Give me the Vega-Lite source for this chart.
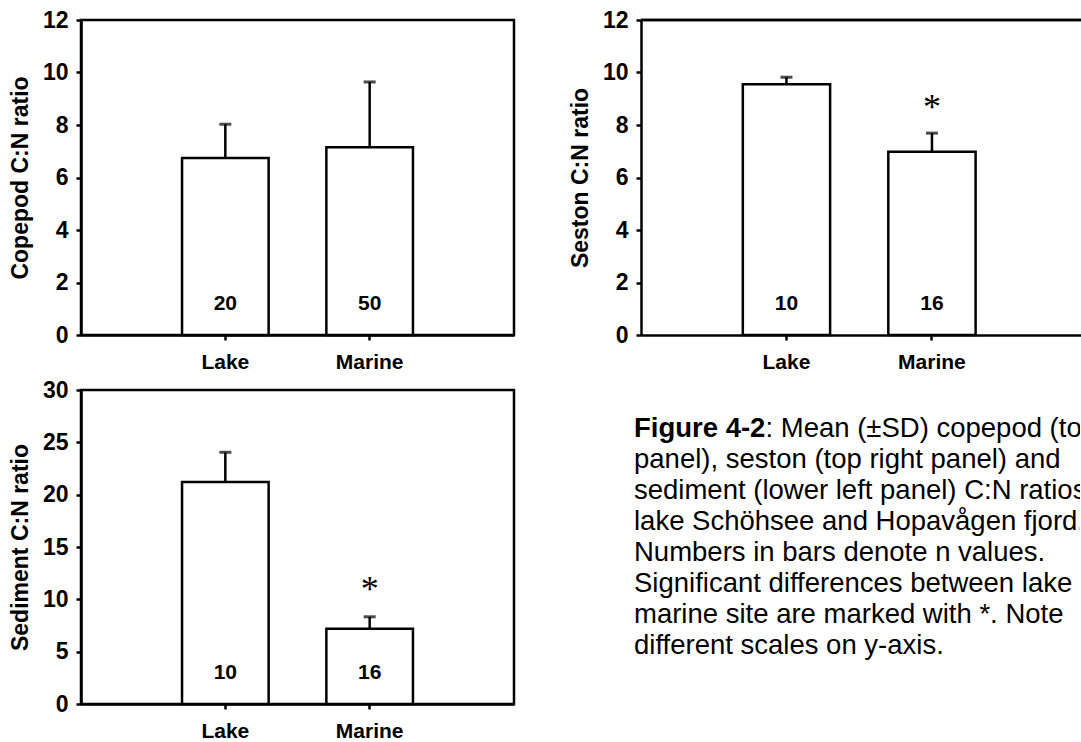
{
  "$schema": "https://vega.github.io/schema/vega-lite/v6.json",
  "padding": {"left": 8, "top": 7, "right": 0, "bottom": 0},
  "background": "white",
  "datasets": {
    "bars": [
      {"panel": "copepod", "site": "Lake", "mean": 6.74, "upper": 8.03, "n": "20", "sig": ""},
      {"panel": "copepod", "site": "Marine", "mean": 7.15, "upper": 9.64, "n": "50", "sig": ""},
      {"panel": "seston", "site": "Lake", "mean": 9.55, "upper": 9.82, "n": "10", "sig": ""},
      {"panel": "seston", "site": "Marine", "mean": 6.98, "upper": 7.69, "n": "16", "sig": "*"},
      {"panel": "sediment", "site": "Lake", "mean": 21.2, "upper": 24.05, "n": "10", "sig": ""},
      {"panel": "sediment", "site": "Marine", "mean": 7.2, "upper": 8.33, "n": "16", "sig": "*"}
    ],
    "caption": [
      {"line": 1, "part": "bold", "text": "Figure 4-2"},
      {"line": 1, "part": "rest", "text": ": Mean (±SD) copepod (top left"},
      {"line": 2, "part": "normal", "text": "panel), seston (top right panel) and"},
      {"line": 3, "part": "normal", "text": "sediment (lower left panel) C:N ratios in"},
      {"line": 4, "part": "normal", "text": "lake Schöhsee and Hopavågen fjord."},
      {"line": 5, "part": "normal", "text": "Numbers in bars denote n values."},
      {"line": 6, "part": "normal", "text": "Significant differences between lake and"},
      {"line": 7, "part": "normal", "text": "marine site are marked with *. Note"},
      {"line": 8, "part": "normal", "text": "different scales on y-axis."}
    ]
  },
  "config": {
    "font": "Liberation Sans",
    "view": {"stroke": "black", "strokeWidth": 2.5},
    "axis": {
      "grid": false,
      "domainColor": "black",
      "domainWidth": 2.5,
      "tickColor": "black",
      "tickWidth": 2.5,
      "tickSize": 5,
      "labelColor": "black",
      "labelFont": "Liberation Sans",
      "labelFontWeight": "bold",
      "titleColor": "black",
      "titleFont": "Liberation Sans",
      "titleFontWeight": "bold",
      "titleFontSize": 23
    },
    "axisX": {"labelFontSize": 21, "labelPadding": 11, "labelAngle": 0, "title": null},
    "axisY": {"labelFontSize": 23, "labelPadding": 8, "titlePadding": 10}
  },
  "vconcat": [
    {
      "hconcat": [
        {
          "width": 433,
          "height": 315,
          "data": {"name": "bars"},
          "transform": [{"filter": "datum.panel === 'copepod'"}],
          "encoding": {
            "x": {"field": "site", "type": "nominal", "sort": ["Lake", "Marine"], "scale": {"paddingInner": 0.4, "paddingOuter": 0.7}}
          },
          "layer": [
            {
              "mark": {"type": "bar", "fill": "white", "stroke": "black", "strokeWidth": 2.5},
              "encoding": {"y": {"field": "mean", "type": "quantitative", "scale": {"domain": [0, 12], "nice": false}, "axis": {"values": [0, 2, 4, 6, 8, 10, 12], "title": "Copepod C:N ratio"}}}
            },
            {
              "mark": {"type": "rule", "color": "black", "strokeWidth": 2.5},
              "encoding": {"y": {"field": "mean", "type": "quantitative"}, "y2": {"field": "upper"}}
            },
            {
              "mark": {"type": "tick", "color": "black", "thickness": 3, "size": 12},
              "encoding": {"y": {"field": "upper", "type": "quantitative"}}
            },
            {
              "mark": {"type": "text", "fontSize": 21, "fontWeight": "bold", "color": "black", "baseline": "alphabetic", "dy": -25},
              "encoding": {"y": {"datum": 0}, "text": {"field": "n"}}
            }
          ]
        },
        {
          "width": 441,
          "height": 315,
          "view": {"stroke": null},
          "data": {"name": "bars"},
          "transform": [{"filter": "datum.panel === 'seston'"}],
          "layer": [
            {
              "mark": {"type": "bar", "fill": "white", "stroke": "black", "strokeWidth": 2.5},
              "encoding": {
                "x": {"field": "site", "type": "nominal", "sort": ["Lake", "Marine"], "scale": {"paddingInner": 0.4, "paddingOuter": 0.7155, "align": 0.489}},
                "y": {"field": "mean", "type": "quantitative", "scale": {"domain": [0, 12], "nice": false}, "axis": {"values": [0, 2, 4, 6, 8, 10, 12], "title": "Seston C:N ratio"}}
              }
            },
            {
              "mark": {"type": "rule", "color": "black", "strokeWidth": 2.5},
              "encoding": {"x": {"field": "site", "type": "nominal", "sort": ["Lake", "Marine"]}, "y": {"field": "mean", "type": "quantitative"}, "y2": {"field": "upper"}}
            },
            {
              "mark": {"type": "tick", "color": "black", "thickness": 3, "size": 12},
              "encoding": {"x": {"field": "site", "type": "nominal", "sort": ["Lake", "Marine"]}, "y": {"field": "upper", "type": "quantitative"}}
            },
            {
              "mark": {"type": "text", "fontSize": 21, "fontWeight": "bold", "color": "black", "baseline": "alphabetic", "dy": -25},
              "encoding": {"x": {"field": "site", "type": "nominal", "sort": ["Lake", "Marine"]}, "y": {"datum": 0}, "text": {"field": "n"}}
            },
            {
              "mark": {"type": "text", "font": "Liberation Serif", "fontSize": 36, "color": "black", "baseline": "alphabetic", "dy": -14},
              "encoding": {"x": {"field": "site", "type": "nominal", "sort": ["Lake", "Marine"]}, "y": {"field": "upper", "type": "quantitative"}, "text": {"field": "sig"}}
            },
            {
              "mark": {"type": "rule", "color": "black", "strokeWidth": 2.5},
              "encoding": {"y": {"datum": 12}}
            }
          ]
        }
      ],
      "spacing": 53
    },
    {
      "hconcat": [
        {
          "width": 433,
          "height": 314,
          "data": {"name": "bars"},
          "transform": [{"filter": "datum.panel === 'sediment'"}],
          "encoding": {
            "x": {"field": "site", "type": "nominal", "sort": ["Lake", "Marine"], "scale": {"paddingInner": 0.4, "paddingOuter": 0.7}}
          },
          "layer": [
            {
              "mark": {"type": "bar", "fill": "white", "stroke": "black", "strokeWidth": 2.5},
              "encoding": {"y": {"field": "mean", "type": "quantitative", "scale": {"domain": [0, 30], "nice": false}, "axis": {"values": [0, 5, 10, 15, 20, 25, 30], "title": "Sediment C:N ratio"}}}
            },
            {
              "mark": {"type": "rule", "color": "black", "strokeWidth": 2.5},
              "encoding": {"y": {"field": "mean", "type": "quantitative"}, "y2": {"field": "upper"}}
            },
            {
              "mark": {"type": "tick", "color": "black", "thickness": 3, "size": 12},
              "encoding": {"y": {"field": "upper", "type": "quantitative"}}
            },
            {
              "mark": {"type": "text", "fontSize": 21, "fontWeight": "bold", "color": "black", "baseline": "alphabetic", "dy": -25},
              "encoding": {"y": {"datum": 0}, "text": {"field": "n"}}
            },
            {
              "mark": {"type": "text", "font": "Liberation Serif", "fontSize": 36, "color": "black", "baseline": "alphabetic", "dy": -16},
              "encoding": {"y": {"field": "upper", "type": "quantitative"}, "text": {"field": "sig"}}
            }
          ]
        },
        {
          "width": 446,
          "height": 330,
          "view": {"stroke": null},
          "data": {"name": "caption"},
          "encoding": {
            "x": {"datum": 0, "type": "quantitative", "scale": {"domain": [0, 1]}, "axis": null},
            "y": {"field": "line", "type": "quantitative", "scale": {"domain": [-0.516, 10.129], "reverse": true, "nice": false, "zero": false}, "axis": null}
          },
          "layer": [
            {
              "transform": [{"filter": "datum.part === 'bold'"}],
              "mark": {"type": "text", "align": "left", "baseline": "alphabetic", "fontSize": 27.5, "fontWeight": "bold", "color": "black", "clip": true},
              "encoding": {"text": {"field": "text"}}
            },
            {
              "transform": [{"filter": "datum.part === 'rest'"}],
              "mark": {"type": "text", "align": "left", "baseline": "alphabetic", "fontSize": 27.5, "color": "black", "dx": 131.5, "clip": true},
              "encoding": {"text": {"field": "text"}}
            },
            {
              "transform": [{"filter": "datum.part === 'normal'"}],
              "mark": {"type": "text", "align": "left", "baseline": "alphabetic", "fontSize": 27.5, "color": "black", "clip": true},
              "encoding": {"text": {"field": "text"}}
            }
          ]
        }
      ],
      "spacing": 118
    }
  ],
  "spacing": 3
}
